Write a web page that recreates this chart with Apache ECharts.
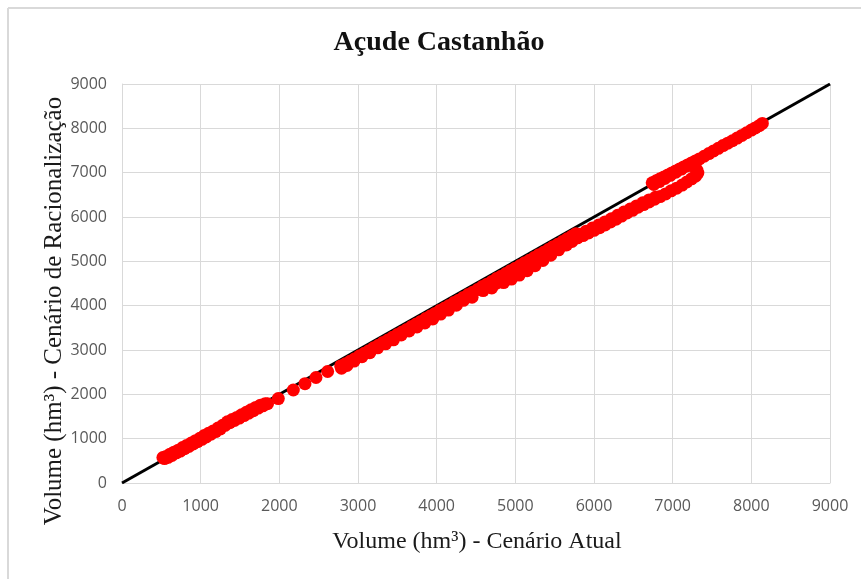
<!DOCTYPE html>
<html>
<head>
<meta charset="utf-8">
<script src="https://cdn.jsdelivr.net/npm/echarts@6/dist/echarts.min.js"></script>
<style>
  html, body { margin: 0; padding: 0; background: #ffffff; }
  #chart { width: 861px; height: 579px; }
</style>
</head>
<body>
<div id="chart"></div>
<script>
// Volumes (hm³): [Cenário Atual, Cenário de Racionalização]
const trechoBaixo = [
  [520,575],[540,550],[560,600],[585,580],[610,650],[635,620],[660,695],[690,680],
  [715,740],[740,720],[770,800],[795,775],[820,845],[850,825],[880,900],[905,880],
  [935,955],[960,930],[990,1010],[1015,985],[1045,1070],[1070,1040],[1100,1120],
  [1130,1100],[1160,1175],[1190,1160],[1220,1240],[1250,1220],[1280,1300],[1310,1300],
  [1340,1380],[1370,1360],[1400,1430],[1430,1410],[1460,1480],[1490,1465],[1520,1540],
  [1550,1520],[1580,1595],[1610,1575],[1640,1650],[1670,1630],[1700,1705],[1730,1690],
  [1760,1755],[1790,1740],[1820,1790],[1850,1790]
];

const trechoIsolado = [
  [1987,1905],[2178,2098],[2326,2240],[2466,2380],[2614,2515]
];

const trechoMedioSuperior = [
  [2780,2640],[2840,2690],[2900,2745],[2960,2805],[3020,2870],[3080,2925],[3140,2985],
  [3200,3050],[3260,3105],[3320,3170],[3380,3225],[3440,3285],[3500,3350],[3560,3405],
  [3620,3465],[3680,3530],[3740,3585],[3800,3645],[3860,3710],[3920,3765],[3980,3825],
  [4040,3890],[4100,3945],[4160,4005],[4220,4070],[4280,4125],[4340,4185],[4400,4250],
  [4460,4305],[4520,4365],[4580,4430],[4640,4485],[4700,4545],[4760,4610],[4820,4665],
  [4880,4725],[4940,4790],[5000,4845],[5060,4905],[5120,4970],[5180,5025],[5240,5085],
  [5300,5150],[5360,5205],[5420,5265],[5480,5330],[5540,5385],[5600,5445],[5660,5510],
  [5720,5570],[5770,5625]
];

const trechoMedioInferior = [
  [2790,2590],[2860,2650],[2950,2750],[3050,2850],[3150,2940],[3250,3050],[3350,3140],
  [3450,3230],[3550,3340],[3650,3430],[3750,3520],[3850,3610],[3950,3700],[4050,3810],
  [4150,3900],[4250,4010],[4340,4120],[4450,4190],[4590,4340],[4700,4400],[4760,4510],
  [4850,4520],[4950,4600],[5050,4690],[5150,4790],[5250,4900],[5350,5020],[5450,5140],
  [5550,5260],[5650,5370],[5720,5450],
  [4800,4570],[4900,4670],[5000,4770],[5100,4860],[5200,4970],[5300,5070],[5400,5170],
  [5500,5260],[5600,5360]
];

const trechoAltoInferior = [
  [5790,5530],[5860,5580],[5930,5640],[6000,5700],[6070,5760],[6140,5820],[6210,5890],
  [6280,5950],[6350,6020],[6420,6090],[6490,6150],[6560,6220],[6630,6280],[6700,6340],
  [6770,6400],[6840,6460],[6910,6520],[6980,6590],[7050,6650],[7120,6720],[7180,6790],
  [7240,6860],[7290,6920],[7320,6990],[7310,7050],[7290,7110],[7260,7150],
  [5820,5610],[5900,5680],[5980,5750],[6060,5820],[6140,5890],[6220,5960],[6300,6040],
  [6380,6110],[6460,6180],[6540,6250],[6620,6320],[6700,6385],[6780,6445]
];

const trechoAltoSuperior = [
  [6740,6770],[6790,6815],[6840,6860],[6890,6905],[6940,6950],[6990,6995],[7040,7040],
  [7090,7085],[7140,7130],[7190,7175],[7240,7220],[7290,7265],[7340,7310],[7400,7370],
  [7460,7430],[7520,7490],[7580,7550],[7640,7610],[7700,7665],[7760,7720],[7820,7780],
  [7880,7840],[7940,7900],[8000,7960],[8050,8010],[8100,8060],[8140,8110],
  [6760,6735],[6830,6800],[6900,6870],[6970,6940],[7040,7010],[7110,7080],[7180,7150],
  [7250,7220]
];

// 1:1 reference line and axis range
const linhaIgualdade = [[0,0],[9000,9000]];
const eixoMin = 0;
const eixoMax = 9000;
const eixoPasso = 1000;

const pontos = [].concat(
  trechoBaixo, trechoIsolado, trechoMedioSuperior, trechoMedioInferior,
  trechoAltoInferior, trechoAltoSuperior
);

const chart = echarts.init(document.getElementById('chart'), null, { renderer: 'canvas' });

const axisCommon = {
  type: 'value',
  min: eixoMin,
  max: eixoMax,
  interval: eixoPasso,
  axisLine: { show: true, lineStyle: { color: '#d9d9d9', width: 1 } },
  axisTick: { show: false },
  splitLine: { show: true, lineStyle: { color: '#d9d9d9', width: 1 } },
  axisLabel: {
    color: '#595959', fontSize: 16, fontFamily: 'Open Sans', margin: 15,
    formatter: function (v) { return String(v); }
  }
};

chart.setOption({
  animation: false,
  backgroundColor: '#ffffff',
  grid: { left: 122, right: 31, top: 84, bottom: 96, containLabel: false },
  xAxis: axisCommon,
  yAxis: axisCommon,
  graphic: [
    { type: 'line', silent: true, z: -1,
      shape: { x1: 8, y1: 8, x2: 861, y2: 8 },
      style: { stroke: '#d9d9d9', lineWidth: 2 } },
    { type: 'line', silent: true, z: -1,
      shape: { x1: 8, y1: 8, x2: 8, y2: 579 },
      style: { stroke: '#d9d9d9', lineWidth: 2 } },
    { type: 'text', x: 439, y: 43, silent: true,
      style: { text: 'Açude Castanhão', fill: '#111111',
               font: 'bold 28px "Liberation Serif"',
               textAlign: 'center', textVerticalAlign: 'middle' } },
    { type: 'text', x: 477, y: 542, silent: true,
      style: { text: 'Volume (hm³) - Cenário Atual', fill: '#1a1a1a',
               font: '24px "Liberation Serif"',
               textAlign: 'center', textVerticalAlign: 'middle' } },
    { type: 'text', x: 54, y: 311, rotation: Math.PI / 2, silent: true,
      style: { text: 'Volume (hm³) - Cenário de Racionalização', fill: '#1a1a1a',
               font: '25px "Liberation Serif"',
               textAlign: 'center', textVerticalAlign: 'middle' } }
  ],
  series: [
    {
      type: 'line',
      data: linhaIgualdade,
      symbol: 'none',
      lineStyle: { color: '#000000', width: 3 },
      z: 2
    },
    {
      type: 'scatter',
      data: pontos,
      symbol: 'circle',
      symbolSize: 13,
      itemStyle: { color: '#ff0000', opacity: 1 },
      z: 3
    }
  ]
});
</script>
</body>
</html>
